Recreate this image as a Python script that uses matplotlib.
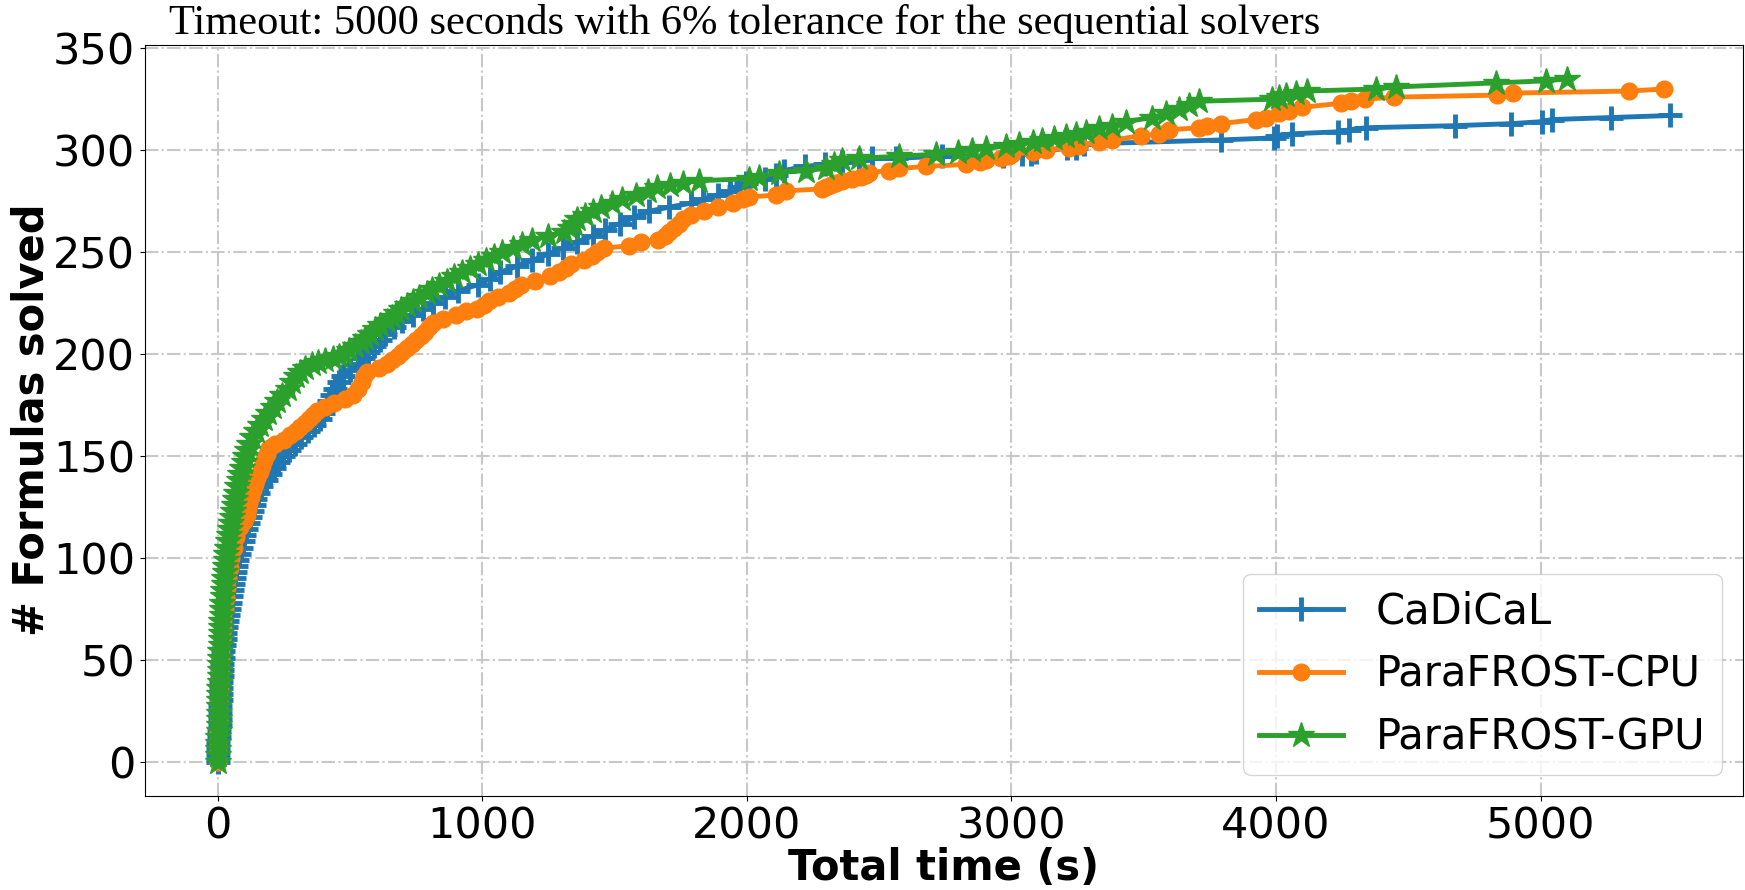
import matplotlib.pyplot as plt

# CaDiCaL: time (s) at which the n-th formula was solved
cadical_n = [0, 3, 6, 9, 12, 15, 18, 21, 24, 27,
             30, 33, 36, 39, 42, 45, 48, 51, 54, 57,
             60, 63, 66, 69, 72, 75, 78, 81, 84, 87,
             90, 93, 96, 99, 102, 105, 108, 111, 114, 117,
             120, 123, 126, 129, 132, 135, 138, 141, 144, 147,
             150, 153, 156, 159, 162, 165, 168, 171, 174, 177,
             180, 183, 186, 189, 192, 195, 198, 201, 204, 207,
             210, 213, 216, 219, 222, 225, 228, 231, 234, 237,
             240, 243, 246, 249, 252, 255, 258, 261, 264, 267,
             270, 272, 274, 276, 278, 280, 282, 284, 286, 288,
             290, 292, 293, 294, 295, 296, 296, 297, 297, 298,
             298, 299, 301, 301, 303, 305, 306, 307, 308, 309,
             310, 311, 312, 313, 314, 315, 316, 317]
cadical_t = [0, 1, 2, 3, 4, 6, 7, 8, 9, 10,
             11, 12, 12, 13, 15, 16, 18, 20, 22, 24,
             26, 28, 30, 34, 38, 42, 46, 50, 54, 58,
             62, 66, 70, 75, 81, 87, 94, 100, 107, 114,
             122, 130, 137, 143, 153, 165, 182, 198, 212, 228,
             248, 270, 292, 315, 340, 365, 385, 400, 412, 422,
             432, 445, 458, 475, 500, 530, 550, 568, 590, 612,
             634, 665, 698, 738, 775, 813, 860, 910, 985, 1030,
             1066, 1130, 1190, 1250, 1305, 1360, 1420, 1465, 1520, 1575,
             1630, 1705, 1790, 1835, 1890, 1935, 1970, 1998, 2070, 2110,
             2140, 2220, 2295, 2360, 2424, 2475, 2563, 2739, 2969, 3039,
             3073, 3094, 3212, 3243, 3275, 3791, 3992, 4005, 4059, 4235,
             4276, 4341, 4675, 4889, 5006, 5042, 5268, 5491]

# ParaFROST-CPU
cpu_n = [0, 5, 10, 15, 20, 25, 30, 35, 40, 45,
         50, 55, 60, 65, 70, 75, 80, 85, 90, 95,
         100, 105, 110, 115, 118, 121, 124, 127, 130, 133,
         136, 139, 142, 145, 148, 151, 154, 156, 158, 160,
         162, 164, 166, 168, 170, 172, 174, 176, 178, 180,
         183, 186, 189, 191, 193, 195, 197, 199, 201, 203,
         205, 207, 209, 211, 213, 215, 217, 219, 221, 222,
         224, 226, 228, 230, 232, 234, 236, 238, 240, 242,
         244, 246, 248, 250, 252, 253, 255, 256, 258, 260,
         262, 264, 266, 268, 270, 272, 274, 276, 277, 278,
         280, 281, 282, 283, 284, 285, 286, 287, 288, 289,
         290, 291, 292, 293, 294, 295, 296, 297, 298, 299,
         300, 301, 302, 304, 305, 307, 308, 310, 311, 312,
         313, 315, 316, 318, 319, 321, 323, 324, 325, 326,
         327, 328, 329, 330]
cpu_t = [0, 1, 2, 3, 4, 5, 6, 7, 8, 10,
         12, 14, 16, 19, 22, 26, 30, 35, 40, 46,
         52, 60, 70, 85, 100, 110, 115, 120, 126, 132,
         140, 150, 160, 168, 175, 185, 195, 215, 250, 275,
         295, 310, 330, 345, 360, 375, 405, 440, 480, 510,
         530, 545, 555, 565, 610, 640, 660, 680, 695, 715,
         735, 750, 770, 785, 800, 815, 850, 900, 940, 980,
         1005, 1025, 1060, 1100, 1125, 1145, 1200, 1255, 1290, 1318,
         1335, 1385, 1415, 1435, 1460, 1555, 1600, 1665, 1690, 1707,
         1725, 1742, 1757, 1790, 1840, 1890, 1946, 1985, 2009, 2110,
         2147, 2286, 2300, 2320, 2336, 2360, 2399, 2430, 2450, 2462,
         2538, 2575, 2676, 2827, 2880, 2903, 2960, 2991, 3004, 3080,
         3130, 3218, 3256, 3331, 3382, 3489, 3558, 3596, 3709, 3740,
         3791, 3923, 3961, 4011, 4049, 4099, 4244, 4282, 4336, 4446,
         4836, 4896, 5336, 5466]

# ParaFROST-GPU
gpu_n = [0, 3, 6, 9, 12, 15, 18, 21, 24, 27,
         30, 33, 36, 39, 42, 45, 48, 51, 54, 57,
         60, 63, 66, 69, 72, 75, 78, 81, 84, 87,
         90, 93, 96, 99, 102, 105, 108, 111, 114, 117,
         120, 123, 126, 129, 132, 135, 138, 141, 144, 147,
         150, 153, 156, 159, 162, 165, 168, 171, 174, 177,
         180, 183, 186, 189, 191, 193, 195, 196, 197, 198,
         199, 200, 202, 204, 206, 208, 210, 212, 214, 216,
         218, 220, 222, 224, 226, 228, 230, 232, 234, 236,
         238, 240, 242, 244, 246, 248, 250, 252, 254, 256,
         258, 260, 262, 264, 266, 268, 270, 272, 274, 276,
         278, 280, 282, 283, 284, 285, 286, 287, 289, 290,
         291, 293, 295, 296, 297, 298, 299, 300, 301, 302,
         303, 304, 305, 306, 307, 308, 309, 311, 312, 314,
         316, 318, 320, 322, 324, 325, 326, 327, 328, 329,
         330, 331, 333, 334, 335]
gpu_t = [0, 2, 3, 3, 3, 4, 4, 4, 4, 5,
         5, 6, 6, 7, 7, 8, 8, 9, 10, 11,
         11, 12, 13, 14, 15, 17, 18, 19, 21, 23,
         24, 26, 28, 30, 33, 36, 39, 42, 46, 50,
         54, 58, 62, 66, 70, 75, 80, 86, 92, 98,
         105, 112, 120, 130, 145, 160, 175, 192, 208, 226,
         245, 265, 280, 295, 310, 330, 355, 380, 405, 435,
         460, 478, 498, 520, 540, 558, 575, 595, 615, 640,
         660, 675, 692, 715, 738, 760, 790, 810, 835, 865,
         895, 925, 955, 985, 1015, 1045, 1075, 1115, 1150, 1190,
         1250, 1310, 1330, 1345, 1360, 1390, 1420, 1450, 1490, 1530,
         1580, 1625, 1660, 1710, 1760, 1820, 2009, 2047, 2122, 2223,
         2298, 2330, 2361, 2424, 2575, 2714, 2800, 2852, 2903, 2978,
         3029, 3080, 3117, 3160, 3206, 3243, 3281, 3331, 3382, 3432,
         3533, 3583, 3634, 3671, 3709, 3986, 4011, 4037, 4074, 4118,
         4377, 4452, 4830, 5019, 5101]

fig, ax = plt.subplots(figsize=(17.45, 8.9), dpi=100)
fig.subplots_adjust(left=0.0831, right=0.9989, top=0.9498, bottom=0.106)

ax.plot(cadical_t, cadical_n, marker='+', markersize=17, markeredgewidth=3.5,
        linewidth=3.5, color='tab:blue', label='CaDiCaL')
ax.plot(cpu_t, cpu_n, marker='o', markersize=12, linewidth=3.5,
        color='tab:orange', label='ParaFROST-CPU')
ax.plot(gpu_t, gpu_n, marker='*', markersize=19, linewidth=3.5,
        color='tab:green', label='ParaFROST-GPU')

ax.grid(True, linestyle='-.', color='#c8c8c8', linewidth=1.5)
ax.tick_params(labelsize=31)
ax.set_xlabel('Total time (s)', fontsize=30, fontweight='bold')
ax.set_ylabel('# Formulas solved', fontsize=30, fontweight='bold')
ax.xaxis.set_label_coords(0.5, -0.068)
ax.yaxis.set_label_coords(-0.058, 0.5)
ax.legend(loc='lower right', fontsize=30)

fig.text(169 / 1745, 1 - 34 / 890,
         'Timeout: 5000 seconds with 6% tolerance for the sequential solvers',
         family='Liberation Serif', fontsize=30.6, va='baseline')

fig.savefig('out.png')
